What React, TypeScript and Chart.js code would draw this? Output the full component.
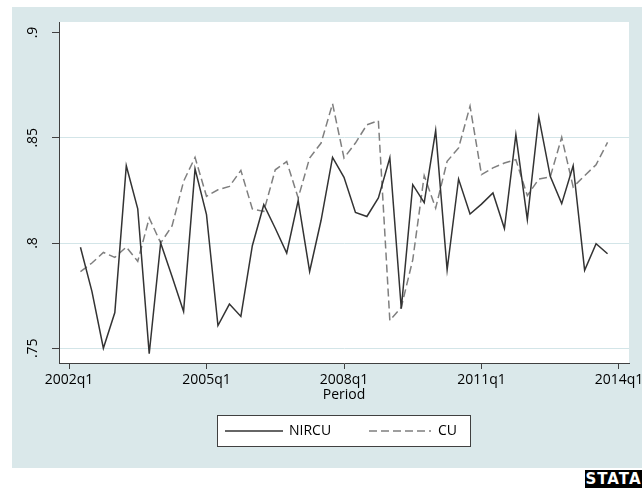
import React, { useEffect, useRef } from "react";
import { Chart, registerables } from "chart.js";

Chart.register(...registerables);

// ---- data ----
const firstPeriod = "2002q2";
const nPeriods = 47;
const periods: string[] = (() => {
  const out: string[] = [];
  let y = parseInt(firstPeriod.slice(0, 4), 10);
  let q = parseInt(firstPeriod.slice(5), 10);
  for (let i = 0; i < nPeriods; i++) {
    out.push(`${y}q${q}`);
    q++;
    if (q > 4) { q = 1; y++; }
  }
  return out;
})();

const nircu = [
  0.798, 0.777, 0.750, 0.767, 0.8367, 0.8162, 0.7474, 0.800, 0.784, 0.7675,
  0.8352, 0.8135, 0.7608, 0.771, 0.7651, 0.7987, 0.8182, 0.807, 0.7952, 0.8202,
  0.7865, 0.8108, 0.8407, 0.8312, 0.8145, 0.8126, 0.8214, 0.8405, 0.7688, 0.8277,
  0.8192, 0.8534, 0.7873, 0.8304, 0.8138, 0.8185, 0.8238, 0.8069, 0.8515, 0.8111,
  0.8599, 0.8317, 0.8187, 0.8367, 0.787, 0.7997, 0.7949,
];

const cu = [
  0.7864, 0.7905, 0.7955, 0.7932, 0.7981, 0.7913, 0.8119, 0.800, 0.8082, 0.8293,
  0.8407, 0.8222, 0.8253, 0.8269, 0.8345, 0.8162, 0.815, 0.8348, 0.8387, 0.8214,
  0.8404, 0.8475, 0.8662, 0.8404, 0.8475, 0.8562, 0.8581, 0.7632, 0.7695, 0.792,
  0.832, 0.8166, 0.8388, 0.8452, 0.865, 0.8325, 0.8357, 0.838, 0.8396, 0.8225,
  0.8304, 0.8314, 0.8502, 0.8266, 0.832, 0.8372, 0.8478,
];

const xTickLabels = ["2002q1", "2005q1", "2008q1", "2011q1", "2014q1"];
const yTickValues = [0.75, 0.8, 0.85, 0.9];
const yTickLabels = [".75", ".8", ".85", ".9"];
const seriesNames = ["NIRCU", "CU"];
const xTitle = "Period";

// quarter index relative to 2002q1
const qIndex = (p: string) =>
  (parseInt(p.slice(0, 4), 10) - 2002) * 4 + (parseInt(p.slice(5), 10) - 1);

const FONT = "'Open Sans', sans-serif";
const BG = "#dae8ea";
const GRID = "#d3e5e8";
const AXIS = "#404040";

export default function App() {
  const ref = useRef<HTMLCanvasElement | null>(null);

  useEffect(() => {
    if (!ref.current) return;

    const bgPlugin = {
      id: "stataBg",
      beforeDraw(chart: any) {
        const { ctx, chartArea } = chart;
        ctx.save();
        ctx.fillStyle = "#ffffff";
        ctx.fillRect(0, 0, chart.width, chart.height);
        ctx.fillStyle = BG;
        ctx.fillRect(12, 7, chart.width - 12, 461);
        ctx.fillStyle = "#ffffff";
        ctx.fillRect(chartArea.left, chartArea.top, chartArea.right - chartArea.left, chartArea.bottom - chartArea.top);
        ctx.restore();
      },
    };

    const legendPlugin = {
      id: "stataLegend",
      afterDraw(chart: any) {
        const { ctx } = chart;
        const ds = chart.data.datasets;
        ctx.save();
        ctx.fillStyle = "#ffffff";
        ctx.fillRect(217.5, 415.5, 253, 31);
        ctx.strokeStyle = AXIS;
        ctx.lineWidth = 1;
        ctx.strokeRect(217.5, 415.5, 253, 31);
        const cy = 431;
        const items = [
          { x0: 225, x1: 283, tx: 289 },
          { x0: 369, x1: 431, tx: 438 },
        ];
        items.forEach((it, i) => {
          ctx.beginPath();
          ctx.strokeStyle = ds[i].borderColor;
          ctx.lineWidth = ds[i].borderWidth;
          ctx.setLineDash(ds[i].borderDash || []);
          ctx.moveTo(it.x0, cy);
          ctx.lineTo(it.x1, cy);
          ctx.stroke();
          ctx.setLineDash([]);
          ctx.fillStyle = "#000";
          ctx.font = `14px ${FONT}`;
          ctx.textBaseline = "middle";
          ctx.textAlign = "left";
          ctx.fillText(ds[i].label, it.tx, cy);
        });
        ctx.restore();
      },
    };

    const chart = new Chart(ref.current, {
      type: "line",
      data: {
        datasets: [
          {
            label: seriesNames[0],
            data: periods.map((p, i) => ({ x: qIndex(p), y: nircu[i] })),
            borderColor: "#333333",
            borderWidth: 1.5,
            pointRadius: 0,
            tension: 0,
            fill: false,
          },
          {
            label: seriesNames[1],
            data: periods.map((p, i) => ({ x: qIndex(p), y: cu[i] })),
            borderColor: "#7f7f7f",
            borderWidth: 1.5,
            borderDash: [8, 4],
            pointRadius: 0,
            tension: 0,
            fill: false,
          },
        ],
      },
      plugins: [bgPlugin, legendPlugin],
      options: {
        animation: false,
        responsive: false,
        events: [],
        layout: { padding: { left: 12, top: 22, right: 13, bottom: 80 } },
        plugins: {
          legend: { display: false },
          tooltip: { enabled: false },
          title: { display: false },
        },
        scales: {
          x: {
            type: "linear",
            min: -0.873,
            max: 48.873,
            afterBuildTicks: (s: any) => {
              s.ticks = xTickLabels.map((l) => ({ value: qIndex(l) }));
            },
            afterFit: (s: any) => {
              s.height = 45;
              s.paddingLeft = 0;
              s.paddingRight = 0;
            },
            ticks: {
              autoSkip: false,
              maxRotation: 0,
              minRotation: 0,
              padding: 3,
              color: "#000",
              font: { family: FONT, size: 14 },
              callback: (_v: any, i: number) => xTickLabels[i],
            },
            grid: {
              drawOnChartArea: false,
              drawTicks: true,
              tickLength: 6,
              tickColor: AXIS,
            },
            border: { display: true, color: AXIS, width: 1 },
            title: {
              display: true,
              text: xTitle,
              color: "#000",
              font: { family: FONT, size: 14 },
              padding: { top: 0, bottom: 5 },
            },
          },
          y: {
            type: "linear",
            min: 0.743,
            max: 0.905,
            afterBuildTicks: (s: any) => {
              s.ticks = yTickValues.map((v) => ({ value: v }));
            },
            afterFit: (s: any) => {
              s.width = 47;
              s.paddingTop = 0;
              s.paddingBottom = 0;
            },
            ticks: {
              autoSkip: false,
              minRotation: 90,
              maxRotation: 90,
              crossAlign: "center",
              padding: 9,
              color: "#000",
              font: { family: FONT, size: 14 },
              callback: (_v: any, i: number) => yTickLabels[i],
            },
            grid: {
              color: (c: any) =>
                c.tick && c.tick.value >= 0.9 ? "rgba(0,0,0,0)" : GRID,
              lineWidth: 1,
              tickLength: 7,
              tickColor: AXIS,
            },
            border: { display: true, color: AXIS, width: 1 },
          },
        },
      } as any,
    });

    return () => chart.destroy();
  }, []);

  return (
    <div style={{ position: "fixed", left: 0, top: 0, width: 642, height: 488, background: "#fff" }}>
      <canvas ref={ref} width={642} height={488} style={{ width: 642, height: 488, display: "block" }} />
      <div
        style={{
          position: "absolute",
          left: 585,
          top: 470,
          width: 57,
          height: 18,
          background: "#000",
          color: "#fff",
          fontFamily: "'DejaVu Sans', sans-serif",
          fontWeight: "bold",
          fontSize: 15,
          lineHeight: "18px",
          textAlign: "center",
          letterSpacing: 1,
          textTransform: "uppercase",
        }}
      >
        stata
      </div>
    </div>
  );
}
